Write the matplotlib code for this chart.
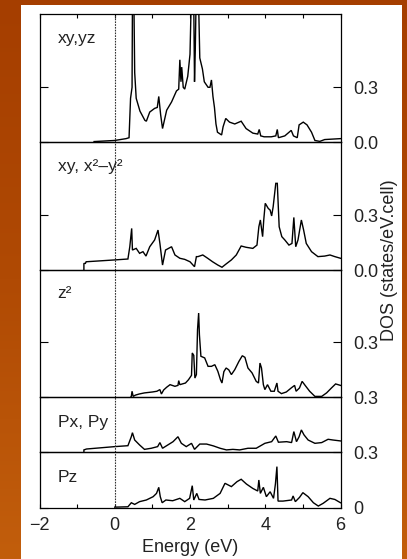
import matplotlib
matplotlib.use("Agg")
import matplotlib.pyplot as plt
from matplotlib.patches import Rectangle
import numpy as np

plt.rcParams['font.family'] = ['Liberation Sans', 'DejaVu Sans']

# ---------------- data ----------------
panel_labels = ["xy,yz", "xy, x\u00b2\u2013y\u00b2", "z\u00b2", "Px, Py", "Pz"]

e_xyyz = [-0.55, 0.0, 0.30, 0.38, 0.42, 0.46, 0.47, 0.51, 0.53, 0.57, 0.67, 0.80, 0.84, 0.93,
          1.06, 1.13, 1.17, 1.22, 1.27, 1.38, 1.51, 1.64, 1.70, 1.73, 1.76, 1.78, 1.82, 1.86,
          1.94, 2.00, 2.03, 2.10, 2.12, 2.14, 2.16, 2.23, 2.26, 2.33, 2.38, 2.48, 2.53, 2.57,
          2.61, 2.65, 2.69, 2.73, 2.84, 2.88, 2.95, 3.05, 3.19, 3.36, 3.49, 3.67, 3.80, 3.84,
          3.88, 3.97, 4.16, 4.28, 4.32, 4.35, 4.52, 4.69, 4.75, 4.85, 4.90, 5.01, 5.11, 5.23,
          5.32, 5.45, 5.58, 6.0]
d_xyyz = [0.004, 0.01, 0.02, 0.025, 0.24, 0.30, 0.75, 0.75, 0.38, 0.24, 0.17, 0.12, 0.115, 0.165,
          0.185, 0.19, 0.25, 0.15, 0.075, 0.175, 0.22, 0.28, 0.29, 0.45, 0.33, 0.41, 0.30, 0.29,
          0.36, 0.48, 0.75, 0.75, 0.33, 0.50, 0.75, 0.75, 0.46, 0.40, 0.33, 0.30, 0.30, 0.34,
          0.25, 0.19, 0.10, 0.055, 0.04, 0.085, 0.13, 0.11, 0.10, 0.115, 0.075, 0.05, 0.045, 0.07,
          0.035, 0.03, 0.03, 0.035, 0.07, 0.025, 0.035, 0.065, 0.035, 0.025, 0.095, 0.11, 0.095, 0.055,
          0.01, 0.005, 0.015, 0.02]

e_xyx2 = [-0.82, -0.82, -0.78, -0.76, 0.0, 0.35, 0.40, 0.45, 0.47, 0.57, 0.66, 0.75, 0.83, 0.93,
          1.06, 1.15, 1.20, 1.27, 1.35, 1.51, 1.60, 1.73, 1.86, 2.00, 2.12, 2.17, 2.21, 2.34,
          2.47, 2.60, 2.74, 2.85, 2.96, 3.10, 3.23, 3.36, 3.49, 3.67, 3.78, 3.83, 3.87, 3.93,
          3.96, 4.00, 4.08, 4.13, 4.17, 4.21, 4.28, 4.32, 4.37, 4.44, 4.52, 4.63, 4.71, 4.76,
          4.81, 4.87, 4.96, 5.02, 5.09, 5.23, 5.40, 5.58, 5.72, 5.85, 6.0]
d_xyx2 = [0.0, 0.036, 0.036, 0.045, 0.055, 0.06, 0.127, 0.227, 0.109, 0.118, 0.091, 0.10, 0.076, 0.127,
          0.164, 0.218, 0.145, 0.027, 0.109, 0.127, 0.082, 0.064, 0.058, 0.045, 0.018, 0.073, 0.073, 0.082,
          0.064, 0.045, 0.027, 0.015, 0.033, 0.055, 0.082, 0.131, 0.124, 0.118, 0.136, 0.236, 0.273, 0.182,
          0.273, 0.364, 0.336, 0.327, 0.295, 0.345, 0.473, 0.473, 0.236, 0.182, 0.164, 0.136, 0.145, 0.287,
          0.127, 0.164, 0.273, 0.218, 0.145, 0.10, 0.073, 0.076, 0.082, 0.073, 0.064]

e_z2 = [0.42, 0.44, 0.46, 0.49, 0.55, 0.65, 0.79, 1.00, 1.12, 1.20, 1.24, 1.30, 1.38, 1.47,
        1.60, 1.68, 1.70, 1.73, 1.88, 1.96, 2.04, 2.06, 2.10, 2.13, 2.17, 2.20, 2.23, 2.25,
        2.29, 2.39, 2.48, 2.57, 2.66, 2.74, 2.81, 2.85, 2.90, 2.96, 3.03, 3.10, 3.19, 3.30,
        3.39, 3.46, 3.54, 3.65, 3.76, 3.82, 3.86, 3.90, 3.95, 3.99, 4.06, 4.15, 4.24, 4.31,
        4.34, 4.43, 4.56, 4.69, 4.78, 4.82, 4.91, 4.98, 5.06, 5.18, 5.32, 5.50, 5.63, 5.76,
        5.87, 6.0]
d_z2 = [0.0, 0.005, 0.033, 0.005, 0.012, 0.018, 0.024, 0.029, 0.033, 0.042, 0.018, 0.04, 0.055, 0.069,
        0.06, 0.065, 0.091, 0.069, 0.078, 0.096, 0.12, 0.242, 0.229, 0.105, 0.124, 0.369, 0.46, 0.342,
        0.224, 0.215, 0.169, 0.169, 0.178, 0.142, 0.096, 0.078, 0.14, 0.16, 0.15, 0.124, 0.151, 0.196,
        0.227, 0.218, 0.16, 0.133, 0.087, 0.078, 0.187, 0.16, 0.069, 0.042, 0.069, 0.033, 0.033, 0.078,
        0.033, 0.02, 0.029, 0.051, 0.065, 0.033, 0.051, 0.087, 0.065, 0.033, 0.005, 0.005, 0.024, 0.051,
        0.073, 0.065]

e_pxpy = [-0.82, -0.82, -0.75, 0.0, 0.35, 0.44, 0.47, 0.53, 0.66, 0.79, 0.97, 1.14, 1.20, 1.27,
          1.41, 1.55, 1.68, 1.77, 1.90, 2.04, 2.12, 2.26, 2.44, 2.62, 2.80, 2.97, 3.14, 3.32,
          3.54, 3.76, 3.99, 4.17, 4.28, 4.35, 4.57, 4.70, 4.76, 4.83, 4.90, 4.96, 5.03, 5.14,
          5.32, 5.50, 5.67, 5.80, 6.0]
d_pxpy = [0.0, 0.013, 0.018, 0.031, 0.036, 0.085, 0.107, 0.067, 0.04, 0.016, 0.022, 0.031, 0.053, 0.022,
          0.04, 0.058, 0.085, 0.049, 0.031, 0.049, 0.016, 0.045, 0.045, 0.035, 0.022, 0.013, 0.016, 0.013,
          0.022, 0.022, 0.049, 0.058, 0.089, 0.055, 0.058, 0.053, 0.113, 0.058, 0.085, 0.122, 0.095, 0.067,
          0.049, 0.053, 0.071, 0.067, 0.062]

e_pz = [0.0, 0.35, 0.44, 0.53, 0.66, 0.84, 1.02, 1.11, 1.17, 1.21, 1.26, 1.36, 1.54, 1.73,
        1.86, 1.99, 2.06, 2.10, 2.18, 2.24, 2.40, 2.62, 2.80, 2.93, 3.10, 3.25, 3.36, 3.50,
        3.67, 3.80, 3.83, 3.87, 3.95, 4.03, 4.13, 4.22, 4.27, 4.31, 4.34, 4.47, 4.70, 4.74,
        4.80, 4.91, 5.00, 5.14, 5.28, 5.41, 5.54, 5.72, 5.85, 6.0]
d_pz = [0.003, 0.005, 0.027, 0.018, 0.033, 0.042, 0.06, 0.078, 0.111, 0.06, 0.027, 0.042, 0.038, 0.051,
        0.033, 0.051, 0.12, 0.042, 0.078, 0.045, 0.042, 0.051, 0.078, 0.133, 0.115, 0.142, 0.155, 0.129,
        0.105, 0.091, 0.151, 0.078, 0.111, 0.06, 0.087, 0.051, 0.129, 0.224, 0.036, 0.036, 0.042, 0.064,
        0.033, 0.056, 0.082, 0.06, 0.027, 0.009, 0.024, 0.051, 0.045, 0.027]

energies = [e_xyyz, e_xyx2, e_z2, e_pxpy, e_pz]
dos = [d_xyyz, d_xyx2, d_z2, d_pxpy, d_pz]
ytick_vals = [[0.0, 0.3], [0.0, 0.3], [0.0, 0.3], [0.0], [0.0]]
ytick_text = [["0.0", "0.3"], ["0.0", "0.3"], ["0.3", "0.3"], ["0.3"], ["0"]]
ylims = [0.698, 0.697, 0.695, 0.300, 0.302]
xtick_vals = [-2, -1, 0, 1, 2, 3, 4, 5, 6]
xtick_text = ["\u22122", "", "0", "", "2", "", "4", "", "6"]

# ---------------- figure ----------------
W, H = 407, 559
fig = plt.figure(figsize=(W / 100, H / 100), dpi=100)
fig.patch.set_facecolor('#ad4604')

# orange background with a soft gradient
bg = fig.add_axes([0, 0, 1, 1], zorder=-10)
grad = np.linspace(0, 1, 256).reshape(-1, 1)
from matplotlib.colors import LinearSegmentedColormap
cmap = LinearSegmentedColormap.from_list('o', ['#c25e0c', '#b04a04', '#a53e00'])
bg.imshow(grad, aspect='auto', cmap=cmap, extent=[0, 1, 0, 1], origin='lower')
bg.set_axis_off()

fig.patches.append(Rectangle((21 / W, 0), (402 - 21) / W, (559 - 5) / H,
                             transform=fig.transFigure, facecolor='white',
                             edgecolor='none', zorder=-5))

gs = fig.add_gridspec(5, 1, left=39.5 / W, right=340.5 / W,
                      top=1 - 14.3 / H, bottom=1 - 507.7 / H,
                      height_ratios=[128, 127.7, 127.3, 55, 55.4], hspace=0)

label_y = [0.776, 0.778, 0.778, 0.465, 0.47]
axes = []
for i in range(5):
    ax = fig.add_subplot(gs[i])
    axes.append(ax)
    ax.set_facecolor('none')
    ax.plot(energies[i], dos[i], color='black', lw=1.0, solid_joinstyle='miter')
    ax.axvline(0, color='#333333', lw=0.8, ls=(0, (1.5, 1.0)))
    ax.set_xlim(-2, 6)
    ax.set_ylim(0, ylims[i])
    for s in ax.spines.values():
        s.set_linewidth(0.9)
    ax.set_yticks(ytick_vals[i])
    ax.set_yticklabels(ytick_text[i])
    ax.tick_params(axis='y', direction='in', left=True, right=True,
                   labelleft=False, labelright=True, length=5.5, width=0.8,
                   pad=9, labelsize=13, colors='black', labelcolor='#222222')
    ax.set_xticks(xtick_vals)
    if i == 4:
        ax.set_xticklabels(xtick_text)
        ax.tick_params(axis='x', direction='in', top=False, bottom=True,
                       length=3, width=0.8, pad=7, labelsize=13, labelcolor='#222222')
    elif i == 0:
        ax.tick_params(axis='x', direction='in', top=True, bottom=False,
                       labelbottom=False, length=3, width=0.8)
    else:
        ax.tick_params(axis='x', top=False, bottom=False, labelbottom=False)
    ax.text(0.06, label_y[i], panel_labels[i], transform=ax.transAxes,
            ha='left', va='baseline', fontsize=12.5, color='#222222')

fig.text(190 / W, 1 - 548 / H, 'Energy (eV)', ha='center', va='center',
         fontsize=13, color='#222222')
fig.text(390 / W, 1 - 260 / H, 'DOS (states/eV.cell)', rotation=90,
         ha='center', va='center', fontsize=13, color='#222222')

fig.savefig('out.png', dpi=100, facecolor=fig.get_facecolor())
